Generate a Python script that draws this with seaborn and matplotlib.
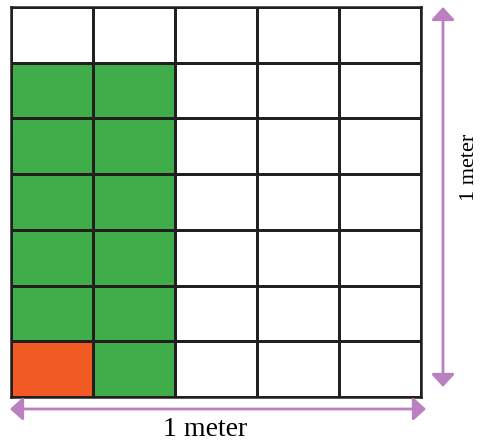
import numpy as np
import matplotlib
matplotlib.use("Agg")
import matplotlib.pyplot as plt
import seaborn as sns
from matplotlib.colors import ListedColormap
from matplotlib.patches import FancyArrowPatch

# 0 = empty, 1 = green, 2 = orange ; 7 rows x 5 columns
grid = [
    [0, 0, 0, 0, 0],
    [1, 1, 0, 0, 0],
    [1, 1, 0, 0, 0],
    [1, 1, 0, 0, 0],
    [1, 1, 0, 0, 0],
    [1, 1, 0, 0, 0],
    [2, 1, 0, 0, 0],
]
cell_colors = ["#ffffff", "#3fae4a", "#f15a22"]
side_label = "1 meter"
bottom_label = "1 meter"

purple = "#bb80bf"
line_col = "#231f20"

W, H = 484, 443
fig = plt.figure(figsize=(W / 100, H / 100), dpi=100)
ax = fig.add_axes([11 / W, (H - 397) / H, 410 / W, 390 / H])

sns.heatmap(np.array(grid), cmap=ListedColormap(cell_colors), vmin=-0.5, vmax=2.5,
            cbar=False, linewidths=1.8, linecolor=line_col, square=False,
            xticklabels=False, yticklabels=False, ax=ax)
for s in ax.spines.values():
    s.set_visible(True)
    s.set_color(line_col)
    s.set_linewidth(1.8)

# pixel -> figure fraction
def fx(px):
    return px / W

def fy(py):
    return 1 - py / H

arrow = dict(arrowstyle="<|-|>,head_length=0.55,head_width=0.5", color=purple, lw=2.0,
             shrinkA=0, shrinkB=0, mutation_scale=14, transform=fig.transFigure)
fig.add_artist(FancyArrowPatch((fx(443), fy(7)), (fx(443), fy(387)), **arrow))
fig.add_artist(FancyArrowPatch((fx(10), fy(409)), (fx(426), fy(409)), **arrow))

fig.text(fx(469), fy(167), side_label, rotation=90, ha="center", va="center",
         fontsize=16, family="Liberation Serif")
fig.text(fx(205), fy(430), bottom_label, ha="center", va="center",
         fontsize=20, family="Liberation Serif")

fig.savefig("out.png", dpi=100)
